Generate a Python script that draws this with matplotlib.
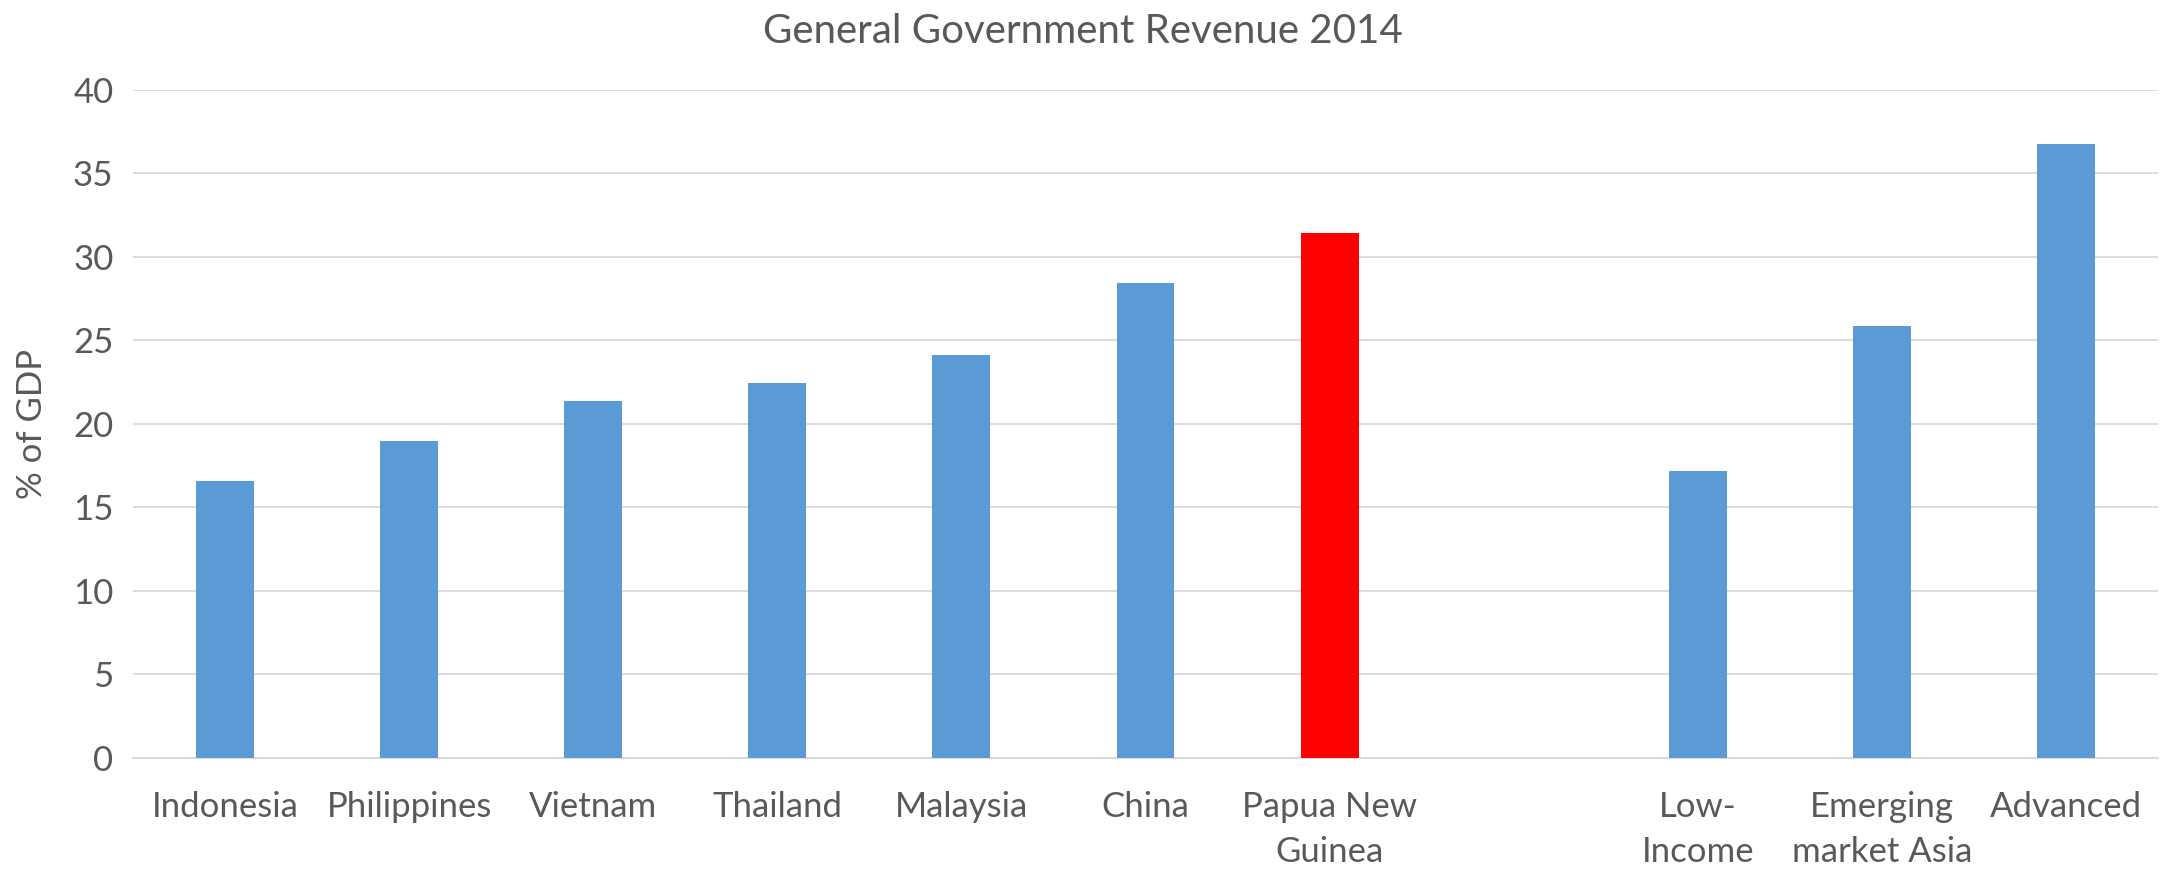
import matplotlib.pyplot as plt
import numpy as np

# dati (% del PIL), la posizione vuota separa i paesi dai gruppi
paesi = ['Indonesia', 'Philippines', 'Vietnam', 'Thailand', 'Malaysia', 'China',
         'Papua New\nGuinea', '', 'Low-\nIncome', 'Emerging\nmarket Asia', 'Advanced']
entrate = [16.6, 18.95, 21.4, 22.45, 24.15, 28.45, 31.45, np.nan, 17.15, 25.85, 36.75]
colori = ['#5B9BD5'] * 6 + ['#FF0000', '#5B9BD5'] + ['#5B9BD5'] * 3

plt.rcParams['font.family'] = ['Lato', 'DejaVu Sans']
grigio = '#595959'

fig = plt.figure(figsize=(21.65, 8.69), dpi=100)
ax = fig.add_axes([0.0614, 0.128, 0.9354, 0.7684])

x = np.arange(len(paesi))
ax.bar(x, entrate, width=0.315, color=colori, zorder=3)

ax.set_xlim(-0.5, len(paesi) - 0.5)
ax.set_ylim(0, 40)
ax.set_yticks(range(0, 41, 5))
ax.set_xticks(x)
ax.set_xticklabels(paesi, fontsize=25, color=grigio, linespacing=1.5)
ax.tick_params(axis='x', length=0, pad=24)
ax.tick_params(axis='y', length=0, pad=14, labelsize=25, labelcolor=grigio)

ax.grid(axis='y', color='#D9D9D9', linewidth=1.3, zorder=0)
for lato in ['top', 'right', 'left']:
    ax.spines[lato].set_visible(False)
ax.spines['bottom'].set_color('#D9D9D9')
ax.spines['bottom'].set_linewidth(1.3)

ax.set_ylabel('% of GDP', fontsize=25, color=grigio, labelpad=18)
fig.text(0.5, 0.985, 'General Government Revenue 2014', ha='center', va='top',
         fontsize=29, color=grigio)

fig.savefig('out.png', dpi=100, facecolor='white')
